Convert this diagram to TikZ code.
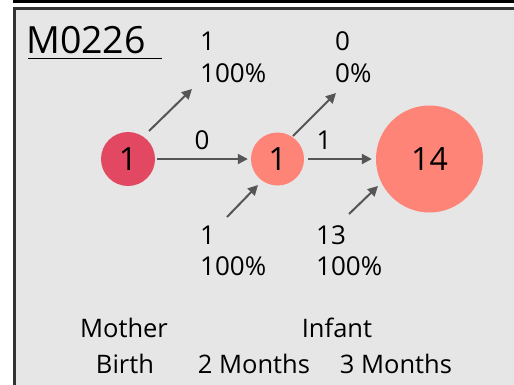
\documentclass[tikz,border=0pt]{standalone}
\usepackage{fontspec}
\setmainfont{Open Sans}
\usetikzlibrary{arrows.meta}
\definecolor{bgfill}{HTML}{E6E6E6}
\definecolor{crim}{HTML}{E34862}
\definecolor{salm}{HTML}{FF8478}
\definecolor{arrowgray}{HTML}{555555}
\tikzset{
  lbl/.style={anchor=base west, inner sep=0pt, font=\fontsize{26}{30}\selectfont},
  captext/.style={anchor=base, inner sep=0pt, font=\fontsize{25.5}{30}\selectfont},
  bubble/.style={circle, inner sep=0pt, font=\fontsize{32}{36}\selectfont},
  conn/.style={draw=arrowgray, line width=2pt, -{Triangle[length=10pt,width=10pt]}},
}
\begin{document}
\begin{tikzpicture}[x=1pt,y=-1pt]
\useasboundingbox (0,0) rectangle (514,384);
\fill[black] (13,0) rectangle (514,3.2);
\filldraw[fill=bgfill, draw=black!80, line width=2.5pt] (14.5,8.5) rectangle (530,400);
% title
\node[anchor=base west, inner sep=0pt, font=\fontsize{37.5}{40}\selectfont] (title) at (26,53) {M0226};
\draw[line width=1.6pt] (28,58.5) -- (162,58.5);
% circles
\node[bubble, fill=crim, minimum size=54pt] (c1) at (128,159) {1};
\node[bubble, fill=salm, minimum size=53pt] (c2) at (277.5,159) {1};
\node[bubble, fill=salm, minimum size=107pt] (c3) at (429.5,159) {14};
% horizontal arrows
\draw[conn, shorten <=2pt, shorten >=3pt] (c1.east) -- (c2.west);
\draw[conn, shorten <=4pt, shorten >=4pt] (c2.east) -- (c3.west);
\node[anchor=base, inner sep=0pt, font=\fontsize{26}{30}\selectfont] (e1) at (202,149) {0};
\node[anchor=base, inner sep=0pt, font=\fontsize{26}{30}\selectfont] (e2) at (324,149) {1};
% diagonal arrows
\coordinate (o1s) at (149,131); \coordinate (o1e) at (192,89);
\coordinate (o2s) at (293,136); \coordinate (o2e) at (336,93);
\coordinate (i1s) at (227,217); \coordinate (i1e) at (258,185);
\coordinate (i2s) at (349,214); \coordinate (i2e) at (378,186);
\draw[conn] (o1s) -- (o1e);
\draw[conn] (o2s) -- (o2e);
\draw[conn] (i1s) -- (i1e);
\draw[conn] (i2s) -- (i2e);
% labels
\node[lbl] (t1a) at (200,50) {1};
\node[lbl] (t1b) at (200,82) {100\%};
\node[lbl] (t2a) at (335,50) {0};
\node[lbl] (t2b) at (335,82) {0\%};
\node[lbl] (b1a) at (200,244) {1};
\node[lbl] (b1b) at (200,275) {100\%};
\node[lbl] (b2a) at (316,244) {13};
\node[lbl] (b2b) at (316,275) {100\%};
% captions
\node[captext] (m1) at (124,337) {Mother};
\node[captext] (m2) at (337,337) {Infant};
\node[captext] (s1) at (125,373) {Birth};
\node[captext] (s2) at (254,373) {2 Months};
\node[captext] (s3) at (396,373) {3 Months};
\end{tikzpicture}
\end{document}
